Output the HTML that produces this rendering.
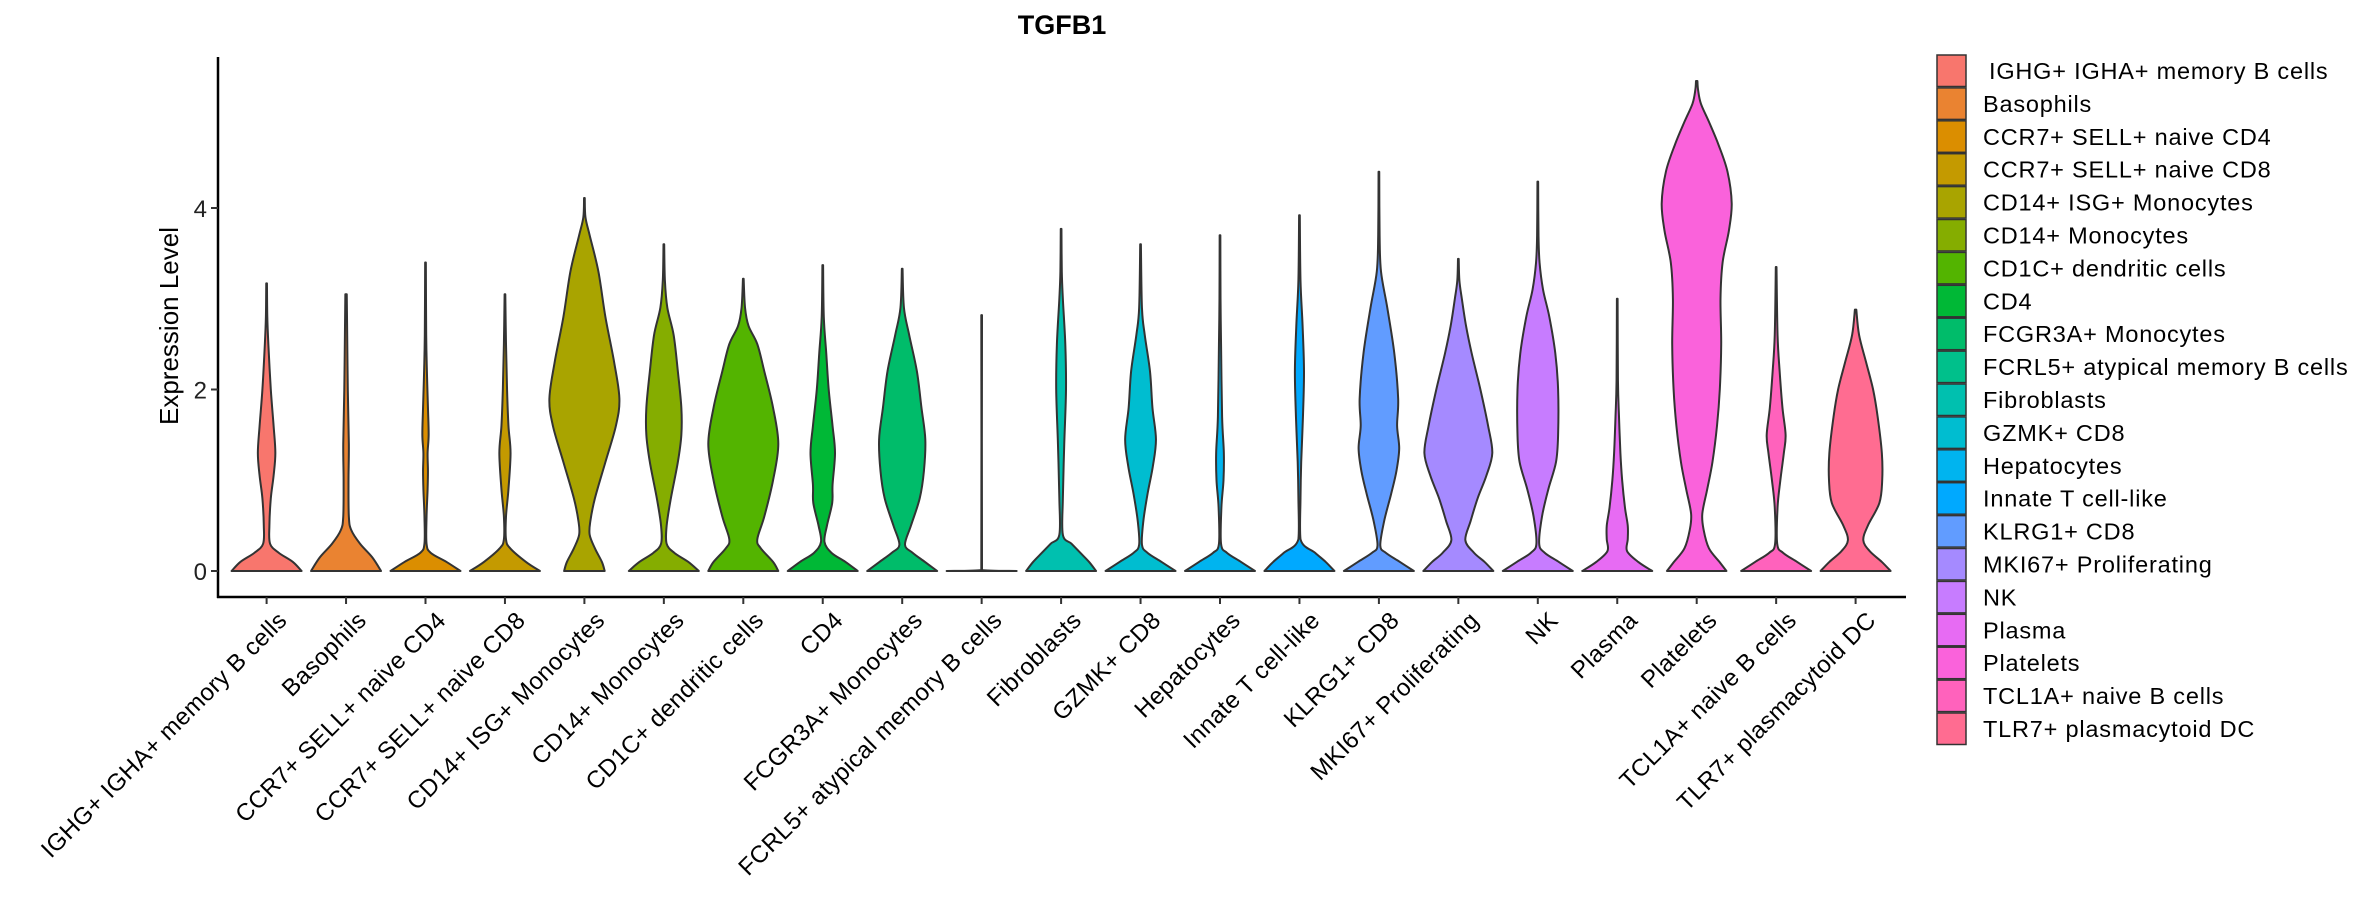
<!DOCTYPE html>
<html><head><meta charset="utf-8"><style>
html,body{margin:0;padding:0;background:#fff;}
svg{display:block;font-family:"Liberation Sans",sans-serif;}
</style></head><body>
<svg id="chart" width="2362" height="900" viewBox="0 0 2362 900" xmlns="http://www.w3.org/2000/svg">
<text x="1062" y="34" text-anchor="middle" font-size="27" font-weight="bold" fill="#000">TGFB1</text>
<text transform="translate(178,326) rotate(-90)" text-anchor="middle" font-size="26" fill="#000">Expression Level</text>
<g id="plot"></g>
<g id="axes"></g>
<g id="legend"></g>
</svg>
<script>
const categories = ["IGHG+ IGHA+ memory B cells","Basophils","CCR7+ SELL+ naive CD4","CCR7+ SELL+ naive CD8","CD14+ ISG+ Monocytes","CD14+ Monocytes","CD1C+ dendritic cells","CD4","FCGR3A+ Monocytes","FCRL5+ atypical memory B cells","Fibroblasts","GZMK+ CD8","Hepatocytes","Innate T cell-like","KLRG1+ CD8","MKI67+ Proliferating","NK","Plasma","Platelets","TCL1A+ naive B cells","TLR7+ plasmacytoid DC"];
const colors = ["#F8766D","#EA8331","#DB8E00","#C49A00","#A9A400","#85AD00","#53B400","#00B836","#00BC6A","#00C08B","#00C0AF","#00BDD0","#00B4EF","#00A9FF","#619CFF","#A58AFF","#C77CFF","#E76BF3","#FA62DB","#FF62BC","#FF6C91"];
const yTicks = [0,2,4];
// density profiles: [expression, relative half-width]
const profiles = [
 [[0,1],[0.1,0.75],[0.2,0.35],[0.3,0.1],[0.5,0.08],[0.8,0.12],[1.05,0.2],[1.3,0.25],[1.6,0.2],[2.0,0.12],[2.5,0.05],[2.8,0.02],[3.17,0.01]],
 [[0,1],[0.15,0.75],[0.3,0.4],[0.45,0.15],[0.6,0.08],[1.0,0.07],[1.4,0.08],[2.0,0.05],[2.7,0.03],[3.05,0.02]],
 [[0,1],[0.1,0.6],[0.2,0.15],[0.3,0.03],[0.6,0.03],[0.9,0.06],[1.1,0.07],[1.3,0.06],[1.5,0.09],[1.8,0.07],[2.2,0.04],[2.6,0.02],[3.4,0.01]],
 [[0,1],[0.1,0.6],[0.25,0.15],[0.35,0.03],[0.6,0.03],[0.9,0.1],[1.3,0.16],[1.6,0.1],[2.0,0.06],[2.5,0.03],[3.05,0.01]],
 [[0,0.58],[0.1,0.5],[0.25,0.3],[0.4,0.15],[0.55,0.17],[0.8,0.3],[1.2,0.6],[1.6,0.9],[1.9,1.0],[2.3,0.85],[2.8,0.6],[3.3,0.4],[3.7,0.15],[3.9,0.03],[4.11,0.01]],
 [[0,1],[0.1,0.7],[0.2,0.3],[0.3,0.08],[0.5,0.08],[0.8,0.2],[1.2,0.4],[1.5,0.5],[1.8,0.5],[2.2,0.4],[2.6,0.28],[2.9,0.1],[3.2,0.03],[3.6,0.01]],
 [[0,1],[0.1,0.85],[0.25,0.5],[0.35,0.4],[0.6,0.6],[1.0,0.85],[1.4,1.0],[1.8,0.85],[2.2,0.6],[2.5,0.4],[2.7,0.15],[2.9,0.05],[3.22,0.01]],
 [[0,1],[0.1,0.65],[0.2,0.25],[0.32,0.05],[0.5,0.12],[0.75,0.27],[0.95,0.28],[1.3,0.35],[1.6,0.28],[2.0,0.17],[2.4,0.1],[2.8,0.03],[3.37,0.01]],
 [[0,1],[0.1,0.65],[0.2,0.3],[0.29,0.08],[0.5,0.25],[0.8,0.5],[1.1,0.62],[1.45,0.66],[1.8,0.55],[2.2,0.42],[2.6,0.2],[2.9,0.05],[3.33,0.01]],
 [[0,1],[0.01,0.01],[2.82,0.01]],
 [[0,1],[0.1,0.8],[0.2,0.55],[0.3,0.3],[0.4,0.05],[0.8,0.05],[1.4,0.09],[2.0,0.14],[2.5,0.12],[3.0,0.05],[3.3,0.02],[3.77,0.01]],
 [[0,1],[0.1,0.6],[0.2,0.2],[0.29,0.04],[0.55,0.08],[0.85,0.2],[1.15,0.35],[1.45,0.44],[1.8,0.34],[2.2,0.27],[2.6,0.12],[2.9,0.04],[3.6,0.01]],
 [[0,1],[0.1,0.6],[0.2,0.2],[0.3,0.03],[0.7,0.04],[1.0,0.1],[1.3,0.11],[1.7,0.06],[2.5,0.03],[3.0,0.015],[3.7,0.01]],
 [[0,1],[0.1,0.75],[0.2,0.45],[0.35,0.03],[0.8,0.03],[1.2,0.05],[1.7,0.1],[2.2,0.13],[2.7,0.09],[3.2,0.03],[3.92,0.01]],
 [[0,1],[0.1,0.6],[0.2,0.2],[0.28,0.04],[0.55,0.15],[0.85,0.35],[1.1,0.5],[1.35,0.58],[1.6,0.52],[1.9,0.55],[2.4,0.44],[2.9,0.24],[3.3,0.06],[3.7,0.02],[4.4,0.01]],
 [[0,1],[0.1,0.75],[0.2,0.45],[0.34,0.2],[0.55,0.35],[0.8,0.55],[1.05,0.8],[1.3,0.97],[1.6,0.85],[2.0,0.63],[2.4,0.38],[2.7,0.22],[3.0,0.1],[3.2,0.03],[3.44,0.01]],
 [[0,1],[0.1,0.6],[0.2,0.2],[0.3,0.04],[0.6,0.12],[0.9,0.3],[1.2,0.52],[1.5,0.58],[2.0,0.58],[2.4,0.5],[2.8,0.33],[3.1,0.15],[3.4,0.05],[3.7,0.02],[4.29,0.01]],
 [[0,1],[0.1,0.6],[0.22,0.28],[0.35,0.3],[0.5,0.3],[0.7,0.22],[1.0,0.14],[1.3,0.09],[1.7,0.05],[2.1,0.02],[3.0,0.01]],
 [[0,0.85],[0.1,0.65],[0.25,0.35],[0.45,0.2],[0.63,0.16],[0.9,0.3],[1.2,0.45],[1.6,0.58],[2.0,0.66],[2.5,0.7],[3.0,0.68],[3.4,0.74],[3.75,0.92],[4.05,1.0],[4.4,0.88],[4.7,0.62],[4.95,0.35],[5.15,0.12],[5.3,0.04],[5.4,0.02]],
 [[0,1],[0.1,0.6],[0.2,0.2],[0.3,0.03],[0.7,0.04],[1.0,0.12],[1.3,0.22],[1.5,0.27],[1.8,0.18],[2.2,0.1],[2.6,0.04],[3.35,0.01]],
 [[0,1],[0.1,0.75],[0.22,0.4],[0.34,0.22],[0.5,0.35],[0.75,0.68],[1.0,0.76],[1.3,0.75],[1.7,0.63],[2.0,0.5],[2.3,0.3],[2.6,0.1],[2.88,0.02]]
];

const NS = "http://www.w3.org/2000/svg";
const X0 = 218, XEND = 1906, Y_AXIS = 597, Y_TOP = 57;
const x = i => 266.6 + i * 79.45;
const y = v => 571 - v * 90.75;
const HW = 35;

function mk(tag, attrs, parent){
  const e = document.createElementNS(NS, tag);
  for (const k in attrs) e.setAttribute(k, attrs[k]);
  parent.appendChild(e); return e;
}
function smooth(pts, cx, side){
  const yb = y(0);
  const cl = (c) => {
    let cxp = c[0];
    if (side > 0 && cxp < cx) cxp = cx;
    if (side < 0 && cxp > cx) cxp = cx;
    return [cxp, Math.min(c[1], yb)];
  };
  let d = "";
  for (let i = 0; i < pts.length - 1; i++){
    const p0 = pts[Math.max(0,i-1)], p1 = pts[i], p2 = pts[i+1], p3 = pts[Math.min(pts.length-1,i+2)];
    const c1 = cl([p1[0]+(p2[0]-p0[0])/6, p1[1]+(p2[1]-p0[1])/6]);
    const c2 = cl([p2[0]-(p3[0]-p1[0])/6, p2[1]-(p3[1]-p1[1])/6]);
    d += ` C${c1[0].toFixed(2)},${c1[1].toFixed(2)} ${c2[0].toFixed(2)},${c2[1].toFixed(2)} ${p2[0].toFixed(2)},${p2[1].toFixed(2)}`;
  }
  return d;
}
const plot = document.getElementById('plot');
profiles.forEach((prof, i) => {
  const cx = x(i);
  const right = prof.map(p => [cx + p[1]*HW, y(p[0])]);
  const top = prof[prof.length-1];
  const left = prof.slice().reverse().map(p => [cx - p[1]*HW, y(p[0])]);
  let d = `M${right[0][0]},${right[0][1]}` + smooth(right, cx, 1) + ` L${cx},${y(top[0])} L${left[0][0]},${left[0][1]}` + smooth(left, cx, -1) + " Z";
  const p = mk('path', {d: d, fill: colors[i], stroke: '#333333', 'stroke-width': 2, 'stroke-linejoin': 'round'}, plot);
  
  
});

const axes = document.getElementById('axes');
const ya = mk('line', {x1: X0, y1: Y_TOP, x2: X0, y2: Y_AXIS+1, stroke: '#000', 'stroke-width': 2.5}, axes);


const xa = mk('line', {x1: X0-1, y1: Y_AXIS, x2: XEND, y2: Y_AXIS, stroke: '#000', 'stroke-width': 2.5}, axes);


yTicks.forEach(t => {
  const tk = mk('line', {x1: X0-7, y1: y(t), x2: X0, y2: y(t), stroke: '#333', 'stroke-width': 2}, axes);
  
  
  const tl = mk('text', {x: X0-11, y: y(t)+9, 'text-anchor': 'end', 'font-size': 24, fill: '#222'}, axes);
  tl.textContent = t;
  
  
});
categories.forEach((c, i) => {
  const cx = x(i);
  const tk = mk('line', {x1: cx, y1: Y_AXIS, x2: cx, y2: Y_AXIS+7, stroke: '#333', 'stroke-width': 2}, axes);
  
  
  const tl = mk('text', {transform: `translate(${cx+9},${Y_AXIS+12}) rotate(-45)`, 'text-anchor': 'end', dy: '0.75em', 'font-size': 24, 'letter-spacing': '0.4', fill: '#000'}, axes);
  tl.textContent = c;
  
  
});

const legend = document.getElementById('legend');
categories.forEach((c, i) => {
  const ty = 55 + i * 32.9;
  const r = mk('rect', {x: 1937, y: ty, width: 29, height: 31.5, fill: colors[i], stroke: '#333', 'stroke-width': 1.5}, legend);
  
  
  const t = mk('text', {x: i === 0 ? 1989 : 1983, y: ty + 24, 'font-size': 23.5, fill: '#000', 'letter-spacing': '0.8'}, legend);
  t.textContent = c;
  
  
});
</script>
</body></html>
